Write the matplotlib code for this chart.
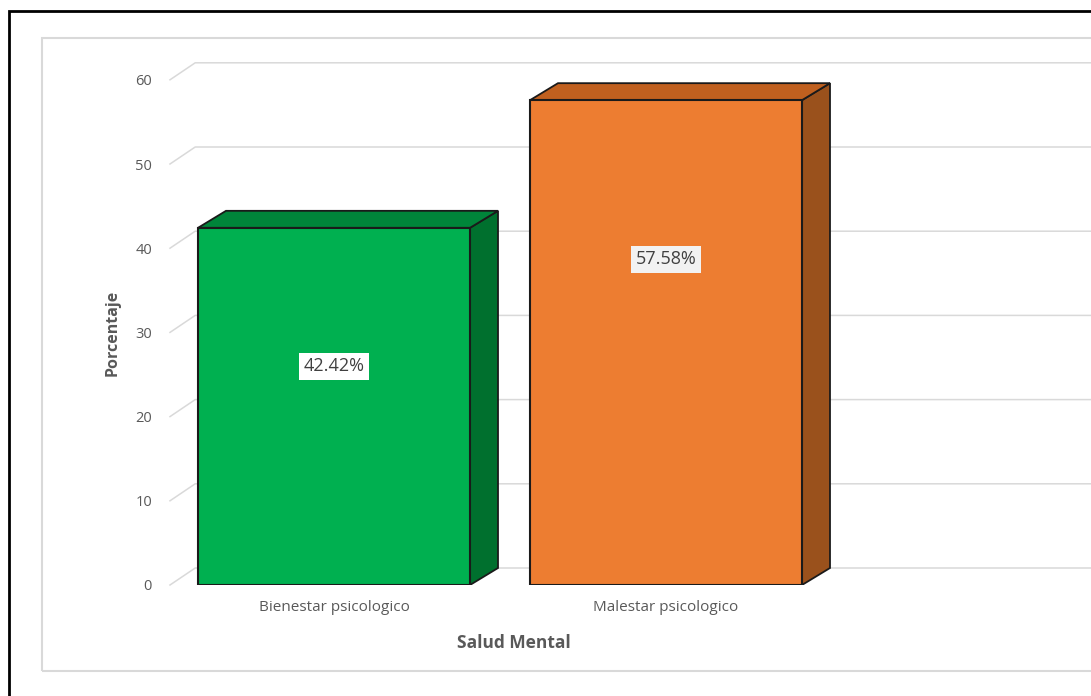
import matplotlib.pyplot as plt
from matplotlib.patches import Polygon, Rectangle

plt.rcParams["font.family"] = ["Open Sans", "DejaVu Sans"]

# data
categories = ["Bienestar psicologico", "Malestar psicologico"]
values = [42.42, 57.58]
value_labels = ["42.42%", "57.58%"]
yticks = [0, 10, 20, 30, 40, 50, 60]

# styles
front_colors = ["#00B050", "#ED7D31"]
top_colors = ["#00853A", "#C0601F"]
side_colors = ["#00702E", "#9A511C"]
label_bg = ["#FFFFFF", "#F2F2F2"]
label_y = [26.0, 38.7]
grid_color = "#D9D9D9"
text_color = "#595959"

W, H = 1091, 696
fig = plt.figure(figsize=(W / 100, H / 100), dpi=100)

# pixel layout of the front plane
px_left, px_right = 170, 1091
px_zero, px_top = 585, 62
px_per_unit = 8.42
cat_px = 332
cat0_px = 334

ax = fig.add_axes([px_left / W, (H - px_zero) / H,
                   (px_right - px_left) / W, (px_zero - px_top) / H])
xmin = (px_left - cat0_px) / cat_px
xmax = (px_right - cat0_px) / cat_px
ax.set_xlim(xmin, xmax)
ax.set_ylim(0, (px_zero - px_top) / px_per_unit)

dx = 28 / cat_px
dy = 17 / px_per_unit
bar_w = 272 / cat_px

# back wall gridlines + left wall diagonals
for t in yticks:
    ax.plot([xmin, xmin + dx * 0.9, xmax], [t, t + dy, t + dy],
            color=grid_color, lw=1.1, clip_on=False, zorder=1)

# 3D bars
for i, v in enumerate(values):
    l, r = i - bar_w / 2, i + bar_w / 2
    side = Polygon([(r, 0), (r + dx, dy), (r + dx, v + dy), (r, v)],
                   closed=True, facecolor=side_colors[i], edgecolor="#1a1a1a",
                   lw=1.3, zorder=2)
    top = Polygon([(l, v), (l + dx, v + dy), (r + dx, v + dy), (r, v)],
                  closed=True, facecolor=top_colors[i], edgecolor="#1a1a1a",
                  lw=1.3, zorder=2)
    ax.add_patch(side)
    ax.add_patch(top)
    ax.bar(i, v, width=bar_w, color=front_colors[i], edgecolor="#1a1a1a",
           lw=1.5, zorder=3)
    ax.text(i, label_y[i], value_labels[i], ha="center", va="center",
            fontsize=13, color="#404040", zorder=4,
            bbox=dict(boxstyle="square,pad=0.25", fc=label_bg[i], ec="none"))

ax.set_xticks(range(len(categories)))
ax.set_xticklabels(categories, fontsize=11, color=text_color)
ax.set_yticks(yticks)
ax.set_yticklabels([str(t) for t in yticks], fontsize=10.5, color=text_color)
ax.tick_params(axis="both", length=0)
ax.tick_params(axis="y", pad=13)
ax.tick_params(axis="x", pad=10.5)
for s in ax.spines.values():
    s.set_visible(False)
ax.patch.set_alpha(0)

fig.text(113 / W, 1 - 333 / H, "Porcentaje", rotation=90, ha="center",
         va="center", fontsize=11.5, color=text_color, fontweight="bold")
fig.text(514 / W, 1 - 643 / H, "Salud Mental", ha="center", va="center",
         fontsize=12.5, color=text_color, fontweight="bold")

# chart frames
fig.patches.append(Rectangle((42 / W, 1 - 671 / H), 1.2, (671 - 38) / H,
                             transform=fig.transFigure, fill=False,
                             ec="#D9D9D9", lw=1.5, zorder=0))
fig.patches.append(Rectangle((9 / W, -0.1), 1.2, 0.1 + (H - 11) / H,
                             transform=fig.transFigure, fill=False,
                             ec="#000000", lw=2, zorder=0))

fig.savefig("out.png", dpi=100)
